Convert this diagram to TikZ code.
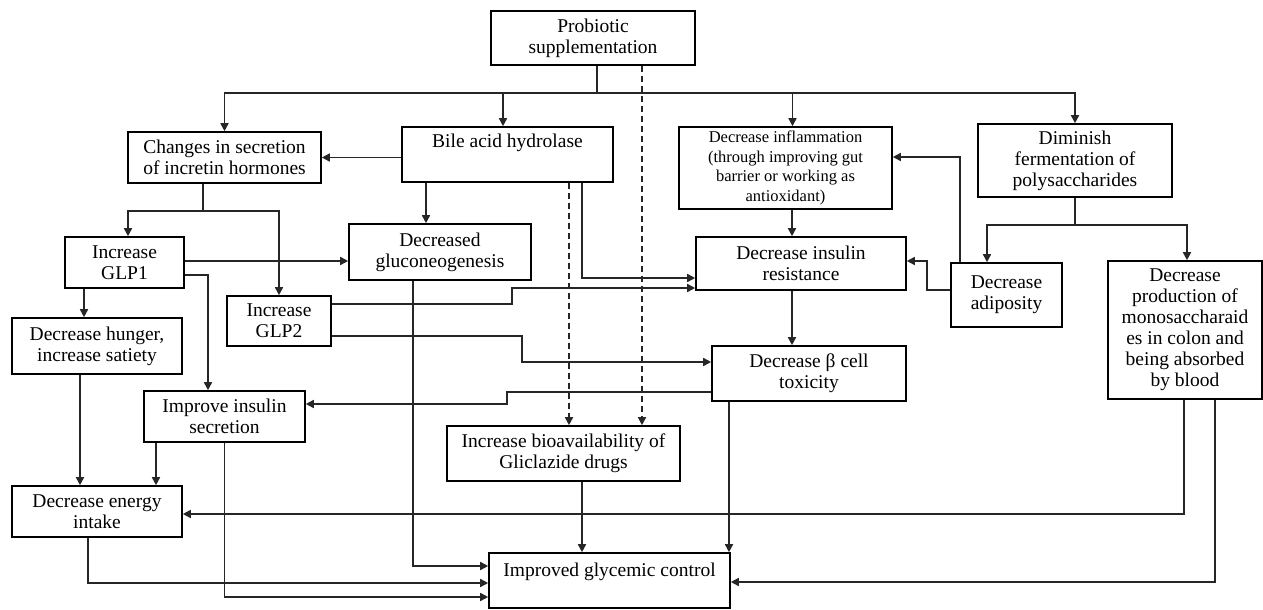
\documentclass[tikz,border=0pt]{standalone}
\usepackage{fontspec}
\setmainfont{Liberation Serif}
\usetikzlibrary{arrows.meta,calc}
\begin{document}
\begin{tikzpicture}[x=1pt,y=-1pt,
  box/.style={draw=black,line width=1.6pt,align=center,inner sep=1pt,
    font=\fontsize{19.5}{21}\selectfont},
  small/.style={font=\fontsize{16.5}{19.5}\selectfont},
  ln/.style={draw=black!85,line width=1.6pt},
  arr/.style={ln,-{Triangle[length=8pt,width=8pt]}},
  dsh/.style={arr,dash pattern=on 6pt off 4pt}]
\useasboundingbox (0,0) rectangle (1263,610);
% boxes
\node[box,minimum width=204pt,minimum height=54pt] (prob) at (593,38) {Probiotic\\supplementation};
\node[box,minimum width=193pt,minimum height=51pt] (chg) at (224.5,157.5) {Changes in secretion\\of incretin hormones};
\node[box,minimum width=211pt,minimum height=55pt] (bile) at (507.5,154.5) {Bile acid hydrolase\\\strut};
\node[box,small,minimum width=213pt,minimum height=82pt] (infl) at (785.5,168) {Decrease inflammation\\(through improving gut\\barrier or working as\\antioxidant)};
\node[box,minimum width=194pt,minimum height=73pt] (dim) at (1075,160.5) {Diminish\\fermentation of\\polysaccharides};
\node[box,minimum width=119pt,minimum height=51pt] (glp1) at (124.5,262.5) {Increase\\GLP1};
\node[box,minimum width=182pt,minimum height=56pt] (glu) at (440,252) {Decreased\\gluconeogenesis};
\node[box,minimum width=104pt,minimum height=50pt] (glp2) at (279,321) {Increase\\GLP2};
\node[box,minimum width=210pt,minimum height=53pt] (ir) at (801,263.5) {Decrease insulin\\resistance};
\node[box,minimum width=111pt,minimum height=64pt] (adi) at (1006.5,295) {Decrease\\adiposity};
\node[box,minimum width=154pt,minimum height=138pt] (prod) at (1185,330) {Decrease\\production of\\monosaccharaid\\es in colon and\\being absorbed\\by blood};
\node[box,minimum width=170pt,minimum height=56pt] (hung) at (97,346) {Decrease hunger,\\increase satiety};
\node[box,minimum width=194pt,minimum height=55pt] (beta) at (809,373.5) {Decrease β cell\\toxicity};
\node[box,minimum width=161pt,minimum height=51pt] (ins) at (224.5,416.5) {Improve insulin\\secretion};
\node[box,minimum width=233pt,minimum height=55pt] (bio) at (563.5,453.5) {Increase bioavailability of\\Gliclazide drugs};
\node[box,minimum width=170pt,minimum height=51pt] (eng) at (97,511.5) {Decrease energy\\intake};
\node[box,minimum width=241pt,minimum height=55pt] (glyc) at (609.5,580.5) {Improved glycemic control\\[-6pt]\strut};
% probiotic bus
\coordinate (pb) at ($(prob.south)+(4,27)$);
\draw[ln] ($(prob.south)+(4,0)$) -- (pb);
\draw[arr] (pb) -| (chg.north);
\draw[arr] (pb) -| ($(bile.north)+(-4.5,0)$);
\draw[arr] (pb) -| ($(infl.north)+(7,0)$);
\draw[arr] (pb) -| (dim.north);
\draw[dsh] ($(prob.south)+(49,0)$) -- ($(bio.north)+(78.5,0)$);
% bile
\draw[dsh] ($(bile.south)+(61.5,0)$) -- ($(bio.north)+(5.5,0)$);
\draw[arr] ($(bile.south)+(74.5,0)$) |- ($(ir.west)+(0,14.5)$);
\draw[arr] ($(bile.south)+(-81.5,0)$) -- ($(glu.north)+(-14,0)$);
\draw[arr] (bile.west |- chg.east) -- (chg.east);
% changes bus
\coordinate (cb) at ($(chg.south)+(-21.5,27)$);
\draw[ln] ($(chg.south)+(-21.5,0)$) -- (cb);
\draw[arr] (cb) -| ($(glp1.north)+(3.5,0)$);
\draw[arr] (cb) -| (glp2.north);
% GLP1
\draw[arr] ($(glp1.east)+(0,-1.5)$) -- ($(glp1.east -| glu.west)+(0,-1.5)$);
\draw[arr] ($(glp1.east)+(0,12.5)$) -| ($(ins.north)+(-16.5,0)$);
\draw[arr] ($(glp1.south)+(-40.5,0)$) -- ($(hung.north)+(-13,0)$);
% GLP2
\coordinate (g2a) at ($(glp2.east)+(180,-33)$);
\draw[arr] ($(glp2.east)+(0,-17)$) -| (g2a) -- ($(ir.west)+(0,24.5)$);
\coordinate (g2b) at ($(glp2.east)+(190,41)$);
\draw[arr] ($(glp2.east)+(0,15)$) -| (g2b) -- ($(beta.west)+(0,-11.5)$);
% gluconeogenesis
\draw[arr] ($(glu.south)+(-27,0)$) |- ($(glyc.west)+(0,-14.5)$);
% beta cell
\coordinate (bt) at ($(beta.west)+(-204,30.5)$);
\draw[arr] ($(beta.west)+(0,18.5)$) -| (bt) -- ($(ins.east)+(0,-12.5)$);
\draw[arr] ($(beta.south)+(-80,0)$) -- ($(glyc.north)+(119.5,0)$);
% inflammation / insulin resistance
\draw[arr] ($(infl.south)+(6.5,0)$) -- ($(ir.north)+(-9,0)$);
\draw[arr] ($(ir.south)+(-9,0)$) -- ($(beta.north)+(-17,0)$);
% adiposity
\coordinate (ad) at ($(adi.west)+(-23,-34)$);
\draw[arr] ($(adi.west)+(0,-5)$) -| (ad) -- ($(ir.east)+(0,-2.5)$);
\draw[arr] ($(adi.north)+(-46.5,0)$) |- ($(infl.east)+(0,-11)$);
% diminish bus
\coordinate (db) at ($(dim.south)+(0,27)$);
\draw[ln] (dim.south) -- (db);
\draw[arr] (db) -| ($(adi.north)+(-19.5,0)$);
\draw[arr] (db) -| ($(prod.north)+(2,0)$);
% production
\draw[arr] ($(prod.south)+(-1,0)$) |- ($(eng.east)+(0,2.5)$);
\draw[arr] ($(prod.south)+(30,0)$) |- ($(glyc.east)+(0,1.5)$);
% bioavailability
\draw[arr] ($(bio.south)+(18.5,0)$) -- ($(glyc.north)+(-27.5,0)$);
% left column
\draw[arr] ($(hung.south)+(-17,0)$) -- ($(eng.north)+(-17,0)$);
\draw[arr] ($(ins.south)+(-68.5,0)$) -- ($(eng.north)+(59,0)$);
\draw[arr] (ins.south) |- ($(glyc.west)+(0,16.5)$);
\draw[arr] ($(eng.south)+(-9,0)$) |- ($(glyc.west)+(0,2.5)$);
\end{tikzpicture}
\end{document}
